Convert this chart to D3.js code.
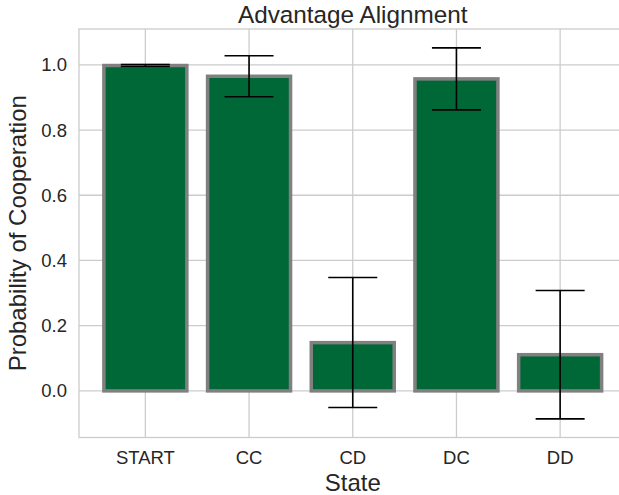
<!DOCTYPE html>
<html>
<head>
<meta charset="utf-8">
<script src="https://cdn.jsdelivr.net/npm/d3@7"></script>
<style>
  body { margin: 0; background: #fff; }
  svg text { font-family: "Liberation Sans", Arial, sans-serif; fill: #262626; }
</style>
</head>
<body>
<svg width="619" height="495"></svg>
<script>
// data
const states = ["START", "CC", "CD", "DC", "DD"];
const probs = [0.998, 0.965, 0.148, 0.957, 0.111];
const errLow = [0.995, 0.902, -0.051, 0.862, -0.086];
const errHigh = [1.001, 1.028, 0.348, 1.052, 0.308];
const yTicks = [0.0, 0.2, 0.4, 0.6, 0.8, 1.0];

const svg = d3.select("svg");
const pLeft = 79, pRight = 626.5, pTop = 29, pBottom = 437.5;

// categorical x with 0.8 bar width, like matplotlib
const x = d3.scaleLinear().domain([-0.64, 4.64]).range([pLeft, pRight]);
const y = d3.scaleLinear().domain([-0.143, 1.11]).range([pBottom, pTop]);

svg.append("defs").append("clipPath").attr("id", "clip")
  .append("rect").attr("x", pLeft).attr("y", pTop).attr("width", pRight - pLeft).attr("height", pBottom - pTop);

const plot = svg.append("g").attr("clip-path", "url(#clip)");

// grid
plot.selectAll(".hgrid").data(yTicks).enter().append("line")
  .attr("x1", pLeft).attr("x2", pRight)
  .attr("y1", d => y(d)).attr("y2", d => y(d))
  .attr("stroke", "#cccccc").attr("stroke-width", 1.3);
plot.selectAll(".vgrid").data(states).enter().append("line")
  .attr("x1", (d, i) => x(i)).attr("x2", (d, i) => x(i))
  .attr("y1", pTop).attr("y2", pBottom)
  .attr("stroke", "#cccccc").attr("stroke-width", 1.3);

// bars
plot.selectAll(".bar").data(probs).enter().append("rect")
  .attr("x", (d, i) => x(i - 0.4))
  .attr("width", x(0.8) - x(0))
  .attr("y", d => y(d))
  .attr("height", d => y(0) - y(d))
  .attr("fill", "#006837")
  .attr("stroke", "#808080")
  .attr("stroke-width", 3.5);

// error bars
const capW = 24.5;
states.forEach((s, i) => {
  const cx = x(i);
  plot.append("line").attr("x1", cx).attr("x2", cx)
    .attr("y1", y(errLow[i])).attr("y2", y(errHigh[i]))
    .attr("stroke", "#000").attr("stroke-width", 1.6);
  [errLow[i], errHigh[i]].forEach(v => {
    plot.append("line").attr("x1", cx - capW).attr("x2", cx + capW)
      .attr("y1", y(v)).attr("y2", y(v))
      .attr("stroke", "#000").attr("stroke-width", 1.6);
  });
});

// spines
svg.append("rect").attr("x", pLeft).attr("y", pTop)
  .attr("width", pRight - pLeft).attr("height", pBottom - pTop)
  .attr("fill", "none").attr("stroke", "#cccccc").attr("stroke-width", 1.3);

// tick labels
svg.selectAll(".ylab").data(yTicks).enter().append("text")
  .attr("x", 67).attr("y", d => y(d)).attr("dy", "0.35em")
  .attr("text-anchor", "end").attr("font-size", 18.5)
  .text(d => d.toFixed(1));
svg.selectAll(".xlab").data(states).enter().append("text")
  .attr("x", (d, i) => x(i)).attr("y", 463.5)
  .attr("text-anchor", "middle").attr("font-size", 18.5)
  .text(d => d);

// titles
svg.append("text").attr("x", (pLeft + pRight) / 2).attr("y", 23)
  .attr("text-anchor", "middle").attr("font-size", 24.3)
  .text("Advantage Alignment");
svg.append("text").attr("x", (pLeft + pRight) / 2).attr("y", 491)
  .attr("text-anchor", "middle").attr("font-size", 24)
  .text("State");
svg.append("text")
  .attr("transform", `translate(26,${(pTop + pBottom) / 2}) rotate(-90)`)
  .attr("text-anchor", "middle").attr("font-size", 24)
  .text("Probability of Cooperation");
</script>
</body>
</html>
